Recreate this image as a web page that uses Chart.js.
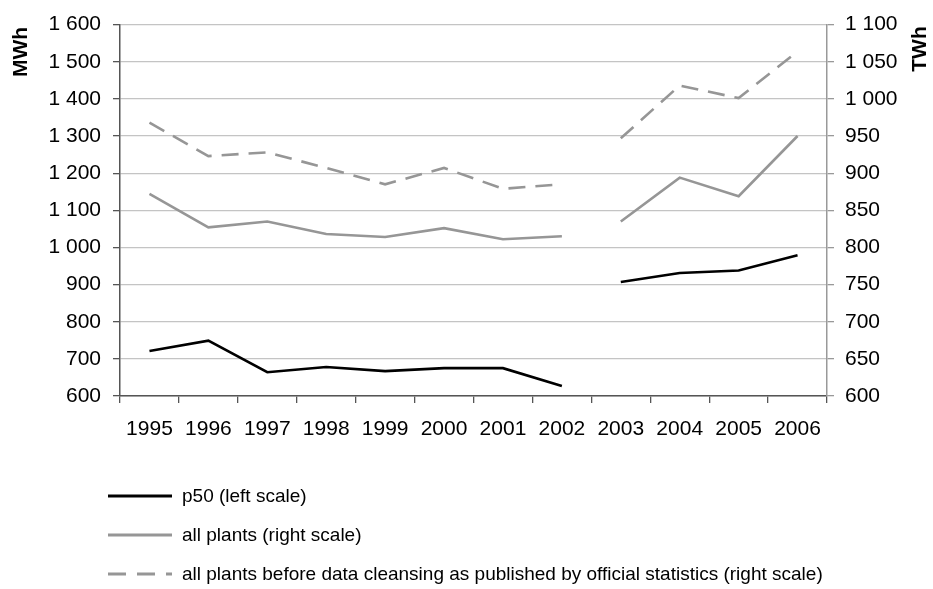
<!DOCTYPE html>
<html>
<head>
<meta charset="utf-8">
<script src="https://cdn.jsdelivr.net/npm/chart.js@4/dist/chart.umd.min.js"></script>
<style>
  html, body { margin: 0; padding: 0; background: #fff; }
  #wrap { width: 933px; height: 589px; }
</style>
</head>
<body>
<div id="wrap"><canvas id="myChart" width="933" height="589"></canvas></div>
<script>
let years = ['1995', '1996', '1997', '1998', '1999', '2000', '2001', '2002', '2003', '2004', '2005', '2006'];
let p50 = [721, 749, 664, 678, 667, 675, 675, 627, 907, 931, 938, 979];
let allPlants = [872, 827, 835, 818, 814, 826, 811, 815, 835, 894, 869, 950];
let allPlantsRaw = [968, 923, 928, 907, 885, 907, 879, 885, 947, 1018, 1001, 1064];
let seriesNames = ['p50 (left scale)', 'all plants (right scale)', 'all plants before data cleansing as published by official statistics (right scale)'];
let leftTitle = 'MWh';
let rightTitle = 'TWh';

const FONT = "'Liberation Sans', Arial, sans-serif";
const gap = { borderColor: c => c.p0DataIndex === 7 ? 'rgba(0,0,0,0)' : undefined };

function spaced(v) {
    if (v >= 1000) return Math.floor(v / 1000) + ' ' + String(v % 1000).padStart(3, '0');
    return String(v);
}

// axis titles + vertical legend drawn by hand
const extras = {
    id: 'extras',
    afterDraw(chart) {
        const c = chart.ctx;
        c.save();
        c.fillStyle = '#000';
        c.font = 'bold 21px ' + FONT;
        c.textAlign = 'center';
        c.textBaseline = 'middle';
        [[21, 52, leftTitle], [920, 49, rightTitle]].forEach(([x, y, t]) => {
            c.save();
            c.translate(x, y);
            c.rotate(-Math.PI / 2);
            c.fillText(t, 0, 0);
            c.restore();
        });
        const rows = [496, 535, 574];
        chart.data.datasets.forEach((ds, i) => {
            c.strokeStyle = ds.borderColor;
            c.lineWidth = 3;
            c.setLineDash(ds.borderDash ? [18, 11] : []);
            c.beginPath();
            c.moveTo(108, rows[i]);
            c.lineTo(172, rows[i]);
            c.stroke();
            c.setLineDash([]);
            c.font = '19px ' + FONT;
            c.textAlign = 'left';
            c.fillStyle = '#000';
            c.fillText(seriesNames[i], 182, rows[i] + 1);
        });
        c.restore();
    }
};

let ctx = document.getElementById('myChart').getContext('2d');
var myChart = new Chart(ctx, {
    type: 'line',
    data: {
        labels: years,
        datasets: [{
            label: seriesNames[0],
            data: p50,
            yAxisID: 'yL',
            borderColor: '#000000',
            borderWidth: 2.6,
            segment: gap
        }, {
            label: seriesNames[1],
            data: allPlants,
            yAxisID: 'yR',
            borderColor: '#969696',
            borderWidth: 2.6,
            segment: gap
        }, {
            label: seriesNames[2],
            data: allPlantsRaw,
            yAxisID: 'yR',
            borderColor: '#969696',
            borderWidth: 2.6,
            borderDash: [17, 10],
            segment: gap
        }]
    },
    options: {
        responsive: false,
        animation: false,
        events: [],
        elements: { point: { radius: 0 }, line: { tension: 0 } },
        layout: { padding: { left: 0, right: 0, top: 21, bottom: 153 } },
        plugins: { legend: { display: false }, tooltip: { enabled: false } },
        scales: {
            x: {
                offset: true,
                grid: { offset: true, drawOnChartArea: false, tickLength: 7, tickColor: '#555', lineWidth: 1.3 },
                border: { color: '#555', width: 1.5 },
                ticks: { color: '#000', font: { family: FONT, size: 21 }, padding: 14, maxRotation: 0, autoSkip: false },
                afterFit: s => { s.height = 40; }
            },
            yL: {
                position: 'left',
                min: 600, max: 1600,
                grid: { color: '#c4c4c4', lineWidth: 1.3, tickLength: 7, tickColor: '#555' },
                border: { color: '#555', width: 1.5 },
                ticks: { stepSize: 100, color: '#000', font: { family: FONT, size: 21 }, padding: 12, callback: v => spaced(v) },
                afterFit: s => { s.width = 120; }
            },
            yR: {
                position: 'right',
                min: 600, max: 1100,
                grid: { drawOnChartArea: false, tickLength: 7, tickColor: '#999', lineWidth: 1.3 },
                border: { color: '#999', width: 1.5 },
                ticks: { stepSize: 50, color: '#000', font: { family: FONT, size: 21 }, padding: 11, callback: v => spaced(v) },
                afterFit: s => { s.width = 106; }
            }
        }
    },
    plugins: [extras]
});
</script>
</body>
</html>
